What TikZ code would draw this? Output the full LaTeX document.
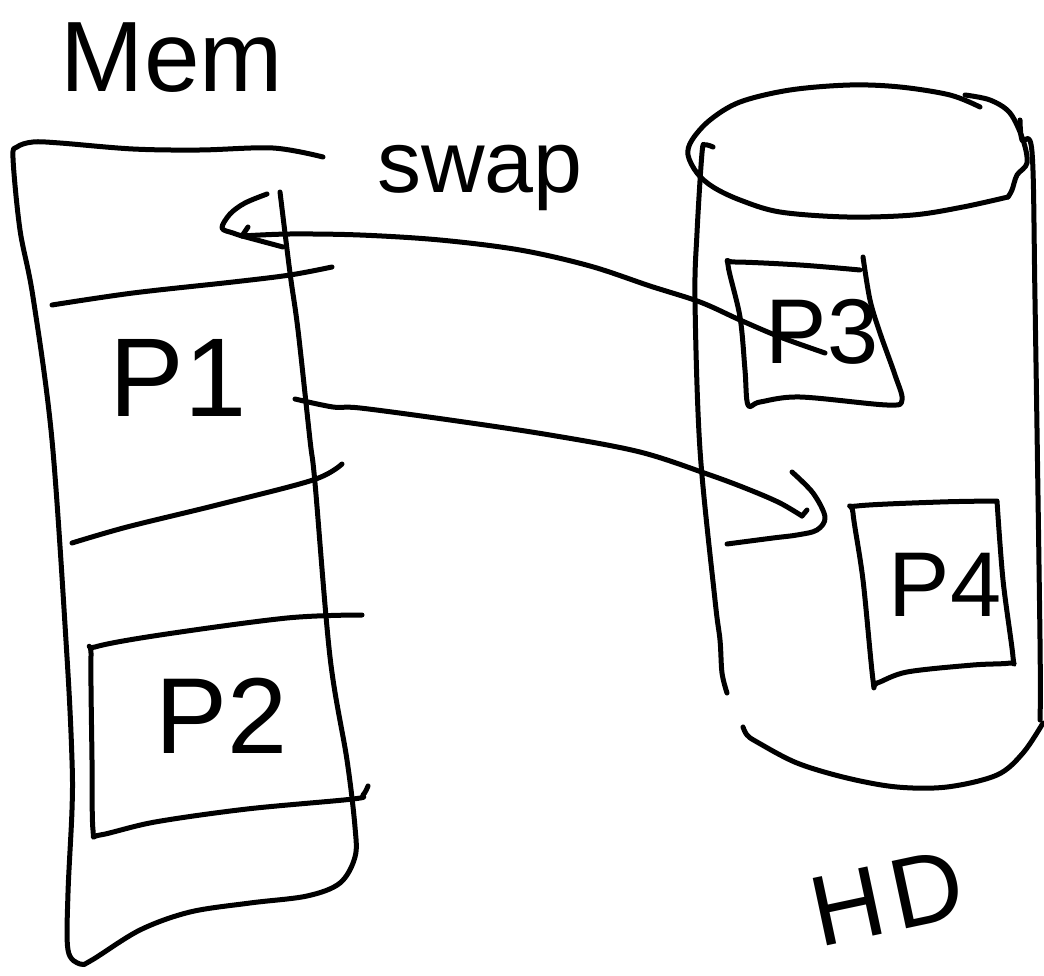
\documentclass[tikz,border=0pt]{standalone}
\usepackage{fontspec}
\setmainfont{Liberation Sans}
\tikzset{
  pen/.style={line width=5pt, line cap=round, line join=round},
  hand/.style={smooth, tension=0.55},
  lbl/.style={inner sep=0pt},
}
\newcommand{\fs}[1]{\fontsize{#1}{#1}\selectfont}
\begin{document}
\begin{tikzpicture}[x=1pt,y=-1pt]
\useasboundingbox (0,0) rectangle (1044,976);
% ---------- Memory column ----------
\draw[pen] plot[hand] coordinates {(323,157) (273,148) (200,150) (133,149) (60,143) (33,142) (17,147) (13,158) (20,230) (33,297) (52,440) (67,657) (72,760) (72,810) (68,893) (68,950) (80,964) (92,960) (140,930) (190,912) (250,903) (307,896) (340,883) (355,857) (355,827) (347,760) (330,657) (315,483) (310,440) (298,330) (290,273) (280,192)};
\draw[pen] plot[hand] coordinates {(52,305) (133,293) (233,282) (290,275) (332,267)};
\draw[pen] plot[hand] coordinates {(72,543) (127,527) (217,505) (313,480) (342,464)};
% P2 slot box
\draw[pen] plot[hand] coordinates {(362,615) (287,618) (160,635) (95,647) (91,656) (92,760) (93,830) (100,835) (155,822) (247,809) (353,799) (363,795) (368,786)};
% ---------- Hard disk cylinder ----------
\draw[pen] plot[hand] coordinates {(980,107) (950,95) (900,87) (850,85) (790,90) (740,102) (710,120) (692,140) (688,155) (697,173) (713,187) (740,200) (780,212) (847,217) (913,215) (963,207) (1008,197)};
\draw[pen] plot[hand] coordinates {(965,95) (990,100) (1010,113) (1023,140) (1027,163) (1017,175) (1012,190) (1008,197)};
\draw[pen] plot[hand] coordinates {(1020,120) (1022,140) (1032,152) (1035,300) (1040,640) (1040,720)};
\draw[pen] plot[hand] coordinates {(713,147) (705,145) (702,153) (697,233) (695,300) (700,450) (715,600) (720,640) (722,673) (727,693)};
\draw[pen] plot[hand] coordinates {(743,727) (747,735) (757,742) (797,763) (847,778) (897,787) (947,787) (997,775) (1023,753) (1043,723)};
% P3 box
\draw[pen] plot[hand] coordinates {(863,257) (870,300) (880,333) (895,375) (902,400) (887,405) (800,397) (760,402) (748,405) (745,370) (740,317) (728,265) (735,262) (800,265) (860,270)};
% P4 box
\draw[pen] plot[hand] coordinates {(997,501) (1003,580) (1013,657) (1010,663) (973,665) (907,672) (877,683) (873,680) (863,580) (853,513) (857,506) (940,502) (997,501)};
% ---------- Labels ----------
\node[lbl, font=\fs{100}] (mem) at (172,58) {Mem};
\node[lbl, font=\fs{88}] (swap) at (480,178) {swap};
\node[lbl, font=\fs{112}] (p1) at (178,378) {P1};
\node[lbl, font=\fs{108}] (p2) at (222,716) {P2};
\node[lbl, font=\fs{92}] (p3) at (822,332) {P3};
\node[lbl, font=\fs{92}] (p4) at (945,585) {P4};
\node[lbl, font=\fs{100}, rotate=12] (hd) at (887,898) {H\kern8pt D};
% ---------- Arrows ----------
% P3 -> swap slot in memory
\draw[pen] plot[hand] coordinates {(825,353) (780,337) (740,320) (700,302) (650,286) (590,266) (520,250) (440,240) (360,235) (290,234) (242,236)};
\draw[pen] (248,227) -- (242,236) -- (283,247);
\draw[pen] plot[hand] coordinates {(267,194) (245,203) (230,214) (222,228) (233,233) (242,236)};
% P1 -> disk
\draw[pen] plot[hand] coordinates {(295,399) (333,407) (360,408) (450,420) (550,435) (640,452) (710,475) (750,490) (780,503) (802,516)};
\draw[pen] (802,516) -- (807,510);
\draw[pen] plot[hand] coordinates {(792,472) (813,493) (825,517) (817,530) (797,535) (773,538) (727,544)};
\end{tikzpicture}
\end{document}
